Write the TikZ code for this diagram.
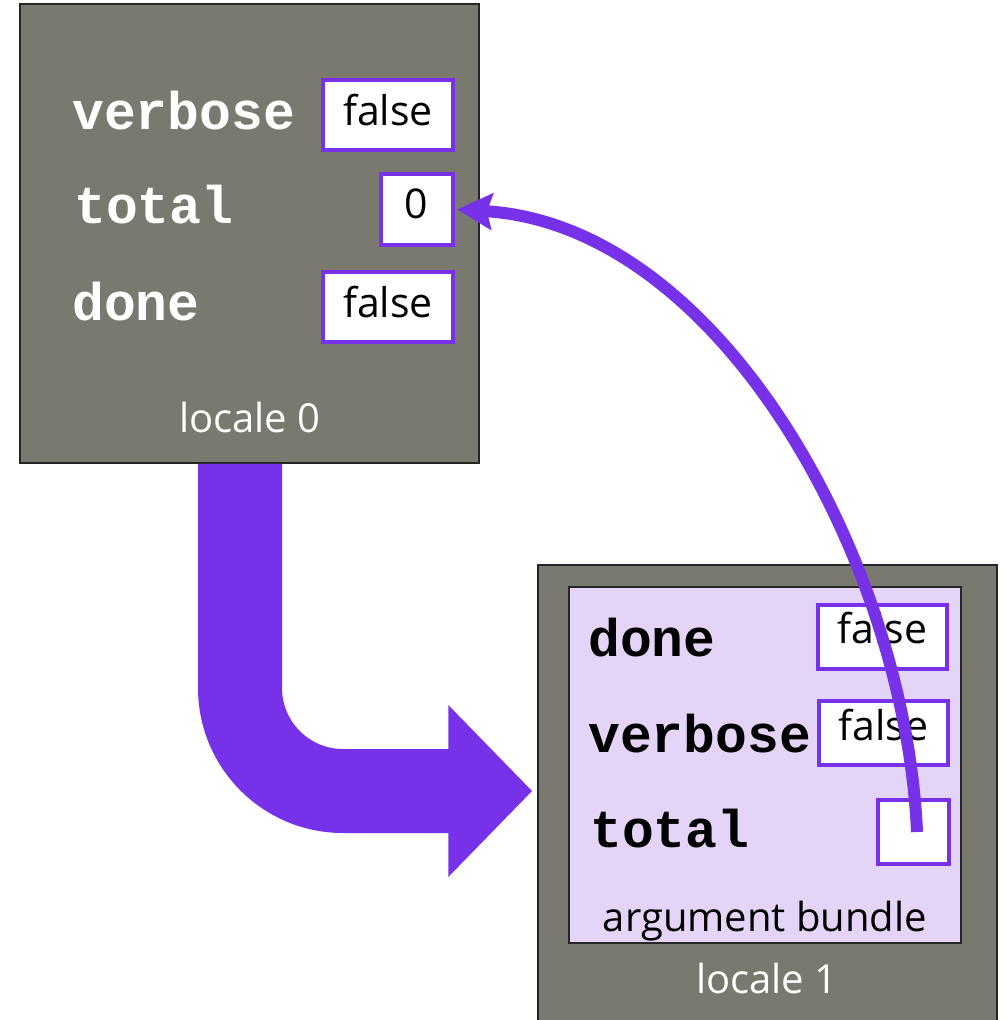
\documentclass[tikz,border=0pt]{standalone}
\usepackage{fontspec}
\setmainfont{Open Sans}
\newfontfamily\codefont{Liberation Mono}
\usetikzlibrary{arrows.meta}
\definecolor{slate}{RGB}{122,121,112}
\definecolor{chplpurple}{RGB}{119,49,232}
\definecolor{lilac}{RGB}{228,213,248}
\begin{document}
\begin{tikzpicture}[x=1pt,y=-1pt,
  locale/.style={draw=black!85, line width=1.5pt, fill=slate, inner sep=0pt},
  bundle/.style={draw=black!85, line width=1.2pt, fill=lilac, inner sep=0pt},
  valbox/.style={draw=chplpurple, line width=4pt, fill=white, inner sep=0pt},
  varname/.style={font=\codefont\bfseries\fontsize{53}{60}\selectfont, inner sep=0pt, anchor=base west},
  valtext/.style={font=\fontsize{41}{48}\selectfont, text=black, inner sep=0pt, anchor=base},
  caption/.style={font=\fontsize{40}{48}\selectfont, inner sep=0pt, anchor=base},
  bigarrow/.style={draw=chplpurple, line width=84pt, rounded corners=103pt,
    -{Triangle[length=84pt, width=167pt]}},
  pointer/.style={draw=chplpurple, line width=12pt,
    -{Stealth[length=35pt, width=36pt, inset=5pt]}}
]
\useasboundingbox (0,0) rectangle (1005,1020);

% locale 0 and its variables
\node[locale, minimum width=459pt, minimum height=459pt] (loc0) at (249.5,233.5) {};
\node[varname, text=white] (verbose0) at (72,129) {verbose};
\node[varname, text=white] (totalname0) at (74,223) {total};
\node[varname, text=white] (done0) at (72,320) {done};
\node[valbox, minimum width=130pt, minimum height=70pt] (verboseval0) at (388,115) {};
\node[valbox, minimum width=72pt, minimum height=71pt] (totalval0) at (417,209.5) {};
\node[valbox, minimum width=130pt, minimum height=70pt] (doneval0) at (388,307) {};
\node[valtext] (vtext0) at (388,125) {false};
\node[valtext] (ttext0) at (416.5,218) {0};
\node[valtext] (dtext0) at (388,317) {false};
\node[caption, text=white] (cap0) at (250,432) {locale 0};

% locale 1 holding the argument bundle
\node[locale, minimum width=459pt, minimum height=462pt] (loc1) at (767.5,796) {};
\node[bundle, minimum width=392pt, minimum height=356pt] (bundle) at (765,765) {};
\node[varname, text=black] (done1) at (588,656) {done};
\node[varname, text=black] (verbose1) at (588,752) {verbose};
\node[varname, text=black] (totalname1) at (590,847) {total};
\node[valbox, minimum width=129pt, minimum height=64pt] (doneval1) at (882.5,637) {};
\node[valbox, minimum width=129pt, minimum height=64pt] (verboseval1) at (883.5,733) {};
\node[valbox, minimum width=71pt, minimum height=64pt] (totalval1) at (913.5,832) {};
\node[valtext] (dtext1) at (882.5,643) {false};
\node[valtext] (vtext1) at (883.5,740) {false};
\node[caption, text=black] (capb) at (765,931) {argument bundle};
\node[caption, text=white] (cap1) at (767,993) {locale 1};

% copying the bundle from locale 0 to locale 1
\draw[bigarrow] ([xshift=-9.5pt]loc0.south) |- ([xshift=-5pt,yshift=5pt]loc1.west);

% reference from the bundled total back to the original
\draw[pointer] ([xshift=3.5pt]totalval1.center)
  .. controls (905,560) and (720,225) .. ([xshift=2pt]totalval0.east);
\end{tikzpicture}
\end{document}
